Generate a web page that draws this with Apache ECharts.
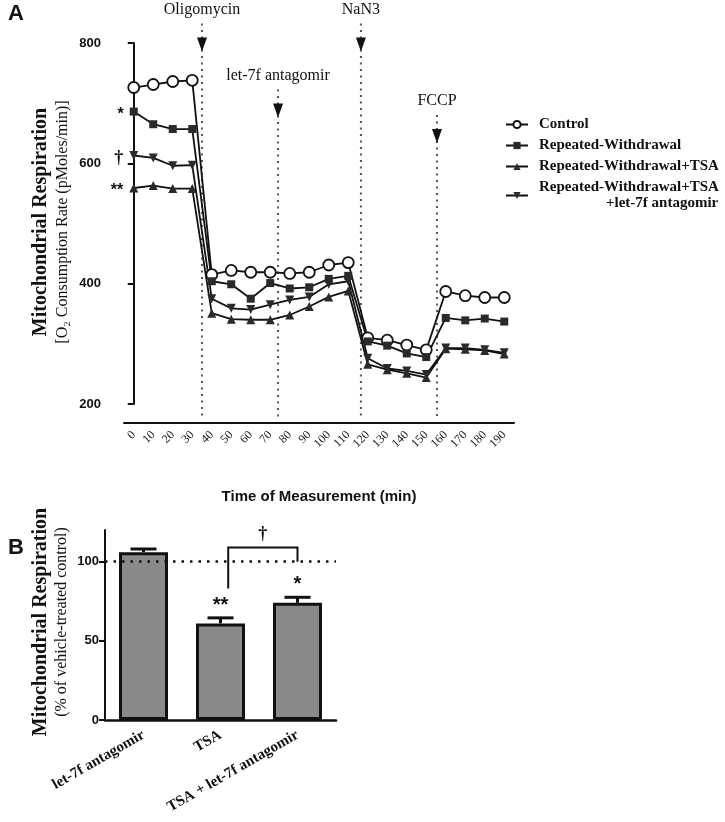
<!DOCTYPE html>
<html>
<head>
<meta charset="utf-8">
<script src="https://cdn.jsdelivr.net/npm/echarts@6/dist/echarts.min.js"></script>
<style>
html, body { margin: 0; padding: 0; background: #fff; }
#chart { width: 725px; height: 822px; }
</style>
</head>
<body>
<div id="chart"></div>
<script>
// panel A - oxygen consumption over time
var times = ['0', '10', '20', '30', '40', '50', '60', '70', '80', '90',
             '100', '110', '120', '130', '140', '150', '160', '170', '180', '190'];
var seriesNames = ['Control', 'Repeated-Withdrawal', 'Repeated-Withdrawal+TSA',
                   'Repeated-Withdrawal+TSA +let-7f antagomir'];
var control = [726, 731, 736, 738, 415, 422, 419, 419, 417, 419, 431, 435, 310, 306, 298, 290, 387, 380, 377, 377];
var repeated = [686, 665, 657, 657, 404, 399, 375, 401, 392, 394, 408, 413, 304, 297, 284, 278, 343, 339, 342, 337];
var repeatedTsa = [559, 563, 558, 558, 351, 341, 340, 340, 348, 362, 378, 388, 266, 257, 251, 244, 292, 291, 289, 283];
var repeatedTsaLet = [613, 609, 596, 597, 375, 359, 357, 365, 373, 378, 399, 404, 276, 259, 255, 249, 293, 293, 290, 285];
var firstMarks = ['', '*', '**', '\u2020'];
var yTicksA = [200, 400, 600, 800];

var injectionNames = ['Oligomycin', 'let-7f antagomir', 'NaN3', 'FCCP'];
var injectionTimes = [35, 74, 116.5, 155.5];
var injectionTips = [786, 676, 786, 634];

// panel B - % of vehicle-treated control
var groups = ['let-7f antagomir', 'TSA', 'TSA + let-7f antagomir'];
var respiration = [106, 61, 74];
var respirationErr = [2, 3.5, 3.5];
var groupMarks = ['', '**', '*'];
var yTicksB = [0, 50, 100];
var baseline = 100;
var bracketFrom = 1, bracketTo = 2, bracketTop = 109, bracketLegs = [83, 100];
var bracketMark = '\u2020';

var myChart = echarts.init(document.getElementById('chart'));

var ink = '#111';
var symbols = ['circle', 'rect', 'triangle', 'triangle'];
var symbolSizes = [11, 8, 9, 9];
var symbolRotates = [0, 0, 0, 180];
var lineData = [control, repeated, repeatedTsa, repeatedTsaLet];

var lineSeries = lineData.map(function (vals, s) {
    return {
        name: seriesNames[s],
        type: 'line',
        xAxisIndex: 0,
        yAxisIndex: 0,
        symbol: symbols[s],
        symbolSize: symbolSizes[s],
        symbolRotate: symbolRotates[s],
        showAllSymbol: true,
        lineStyle: { color: ink, width: 1.8 },
        itemStyle: s === 0 ? { color: '#fff', borderColor: ink, borderWidth: 1.8 } : { color: '#2a2a2a' },
        data: vals.map(function (v, i) {
            if (i === 0 && firstMarks[s]) {
                return {
                    value: v,
                    label: {
                        show: true, position: 'left', distance: 6, offset: [0, 3],
                        formatter: firstMarks[s],
                        fontSize: s === 3 ? 18 : 16, fontWeight: 'bold',
                        fontFamily: s === 3 ? 'Liberation Serif' : 'Liberation Sans',
                        color: ink
                    }
                };
            }
            return v;
        }),
        z: 3
    };
});

option = {
    animation: false,
    backgroundColor: '#fff',
    legend: {
        orient: 'vertical',
        left: 500,
        top: 112,
        itemWidth: 22,
        itemHeight: 9,
        itemGap: 6,
        data: seriesNames,
        formatter: function (name) {
            if (name === seriesNames[3]) {
                return '{a|Repeated-Withdrawal+TSA}\n{b|+let-7f antagomir}';
            }
            return name;
        },
        textStyle: {
            fontFamily: 'Liberation Serif', fontWeight: 'bold', fontSize: 15, color: ink,
            padding: [0, 0, 0, 6],
            rich: {
                a: { fontFamily: 'Liberation Serif', fontWeight: 'bold', fontSize: 15, color: ink, lineHeight: 16 },
                b: { fontFamily: 'Liberation Serif', fontWeight: 'bold', fontSize: 15, color: ink, lineHeight: 16, padding: [0, 0, 0, 67] }
            }
        }
    },
    grid: [
        { left: 124, top: 43, width: 390, height: 361 },
        { left: 105, top: 530, width: 231, height: 190 }
    ],
    xAxis: [{
        gridIndex: 0,
        type: 'category',
        data: times,
        offset: 19,
        axisLine: { lineStyle: { color: ink, width: 2 } },
        axisTick: { alignWithLabel: true, length: 5, lineStyle: { color: ink, width: 2 } },
        axisLabel: { rotate: 45, interval: 0, margin: 10, fontFamily: 'Liberation Serif', fontSize: 12, color: '#222' }
    }, {
        gridIndex: 0,
        type: 'value',
        min: -5,
        max: 195,
        show: false
    }, {
        gridIndex: 1,
        type: 'category',
        data: groups,
        axisLine: { lineStyle: { color: ink, width: 2.5 } },
        axisTick: { alignWithLabel: true, length: 5, lineStyle: { color: ink, width: 2 } },
        axisLabel: { rotate: 30, interval: 0, margin: 14, fontFamily: 'Liberation Serif', fontWeight: 'bold', fontSize: 15, color: ink }
    }],
    yAxis: [{
        gridIndex: 0,
        type: 'value',
        min: yTicksA[0],
        max: yTicksA[yTicksA.length - 1],
        interval: 200,
        offset: 17,
        axisLine: { show: true, lineStyle: { color: ink, width: 2 } },
        axisTick: { show: true, length: 6, lineStyle: { color: ink, width: 2 } },
        splitLine: { show: false },
        axisLabel: { margin: 6, fontFamily: 'Liberation Sans', fontWeight: 'bold', fontSize: 13, color: ink }
    }, {
        gridIndex: 1,
        type: 'value',
        min: 0,
        max: 120,
        interval: 50,
        axisLine: { show: true, lineStyle: { color: ink, width: 2 } },
        axisTick: { show: true, length: 6, customValues: yTicksB, lineStyle: { color: ink, width: 2 } },
        splitLine: { show: false },
        axisLabel: { margin: 6, customValues: yTicksB, fontFamily: 'Liberation Sans', fontWeight: 'bold', fontSize: 13, color: ink }
    }],
    graphic: [
        { type: 'text', left: 8, top: 3, style: { text: 'A', font: 'bold 22px "Liberation Sans"', fill: ink } },
        { type: 'text', left: 8, top: 537, style: { text: 'B', font: 'bold 22px "Liberation Sans"', fill: ink } },
        { type: 'text', x: 41, y: 222, rotation: Math.PI / 2,
          style: { text: 'Mitochondrial Respiration', font: 'bold 20px "Liberation Serif"', fill: ink, align: 'center', verticalAlign: 'middle' } },
        { type: 'text', x: 63, y: 222, rotation: Math.PI / 2,
          style: { text: '[O\u2082 Consumption Rate (pMoles/min)]', font: '16px "Liberation Serif"', fill: ink, align: 'center', verticalAlign: 'middle' } },
        { type: 'text', x: 319, y: 497,
          style: { text: 'Time of Measurement (min)', font: 'bold 15px "Liberation Sans"', fill: ink, align: 'center', verticalAlign: 'middle' } },
        { type: 'text', x: 41, y: 622, rotation: Math.PI / 2,
          style: { text: 'Mitochondrial Respiration', font: 'bold 20px "Liberation Serif"', fill: ink, align: 'center', verticalAlign: 'middle' } },
        { type: 'text', x: 62, y: 622, rotation: Math.PI / 2,
          style: { text: '(% of vehicle-treated control)', font: '16px "Liberation Serif"', fill: ink, align: 'center', verticalAlign: 'middle' } }
    ],
    series: lineSeries.concat([{
        name: 'injections',
        type: 'custom',
        xAxisIndex: 1,
        yAxisIndex: 0,
        clip: false,
        silent: true,
        z: 1,
        data: injectionTimes.map(function (t, i) { return [t, injectionTips[i]]; }),
        renderItem: function (params, api) {
            var p = api.coord([api.value(0), api.value(1)]);
            var bottom = api.coord([api.value(0), yTicksA[0]])[1] + 16;
            var x = p[0], y = p[1];
            return {
                type: 'group',
                children: [{
                    type: 'line',
                    shape: { x1: x, y1: y - 28, x2: x, y2: bottom },
                    style: { stroke: '#555', lineWidth: 2, lineDash: [2, 4.5] }
                }, {
                    type: 'polygon',
                    shape: { points: [[x - 5, y - 14], [x + 5, y - 14], [x, y]] },
                    style: { fill: ink }
                }, {
                    type: 'text',
                    x: x,
                    y: y - 42,
                    style: { text: injectionNames[params.dataIndex], font: '16px "Liberation Serif"', fill: ink, align: 'center', verticalAlign: 'middle' }
                }]
            };
        }
    }, {
        name: 'respiration',
        type: 'bar',
        xAxisIndex: 2,
        yAxisIndex: 1,
        barWidth: 49,
        itemStyle: { color: '#8a8a8a', borderColor: ink, borderWidth: 3 },
        data: respiration.map(function (v, i) {
            return {
                value: v,
                label: {
                    show: !!groupMarks[i], position: 'top', distance: 8,
                    formatter: groupMarks[i], fontSize: 20, fontWeight: 'bold',
                    fontFamily: 'Liberation Sans', color: ink
                }
            };
        }),
        markLine: {
            silent: true,
            symbol: 'none',
            label: { show: false },
            lineStyle: { color: ink, type: [2.5, 6], width: 2.5 },
            data: [{ yAxis: baseline }]
        },
        z: 2
    }, {
        name: 'error',
        type: 'custom',
        xAxisIndex: 2,
        yAxisIndex: 1,
        silent: true,
        z: 3,
        data: respiration.map(function (v, i) { return [i, v, v + respirationErr[i]]; }),
        renderItem: function (params, api) {
            var lo = api.coord([api.value(0), api.value(1)]);
            var hi = api.coord([api.value(0), api.value(2)]);
            var style = { stroke: ink, lineWidth: 3 };
            return {
                type: 'group',
                children: [{
                    type: 'line', shape: { x1: lo[0], y1: lo[1], x2: hi[0], y2: hi[1] }, style: style
                }, {
                    type: 'line', shape: { x1: hi[0] - 13, y1: hi[1], x2: hi[0] + 13, y2: hi[1] }, style: style
                }]
            };
        }
    }, {
        name: 'bracket',
        type: 'custom',
        xAxisIndex: 2,
        yAxisIndex: 1,
        silent: true,
        clip: false,
        z: 3,
        data: [[bracketFrom, bracketTop]],
        renderItem: function (params, api) {
            var a = api.coord([bracketFrom, bracketTop]);
            var b = api.coord([bracketTo, bracketTop]);
            var xL = a[0] + (b[0] - a[0]) * 0.1;
            var xR = b[0];
            var yL = api.coord([bracketFrom, bracketLegs[0]])[1];
            var yR = api.coord([bracketTo, bracketLegs[1]])[1];
            return {
                type: 'group',
                children: [{
                    type: 'polyline',
                    shape: { points: [[xL, yL], [xL, a[1]], [xR, a[1]], [xR, yR]] },
                    style: { stroke: ink, lineWidth: 2, fill: null }
                }, {
                    type: 'text',
                    x: (xL + xR) / 2,
                    y: a[1] - 13,
                    style: { text: bracketMark, font: 'bold 18px "Liberation Serif"', fill: ink, align: 'center', verticalAlign: 'middle' }
                }]
            };
        }
    }])
};

myChart.setOption(option);

window.addEventListener('resize', function () {
    myChart.resize();
});
</script>
</body>
</html>
